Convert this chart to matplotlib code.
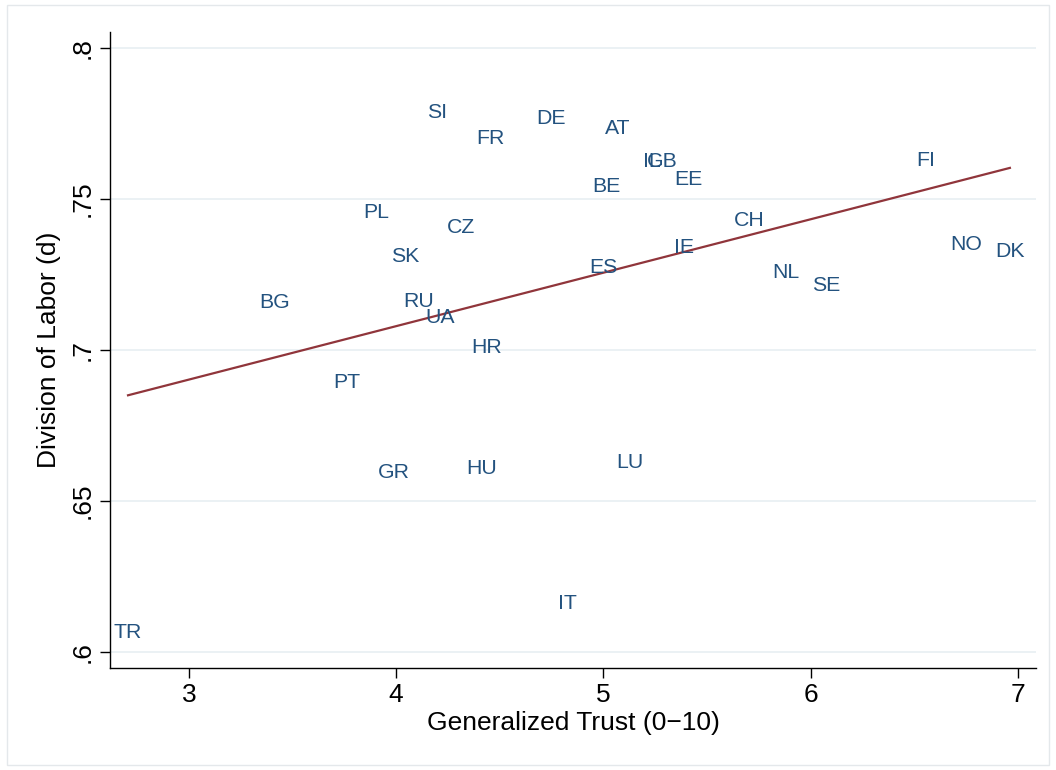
import matplotlib
matplotlib.use("Agg")
import matplotlib.pyplot as plt
import numpy as np
from matplotlib.patches import Rectangle

plt.rcParams['font.family'] = ['Liberation Sans', 'DejaVu Sans']

countries = ["TR", "SI", "FR", "DE", "AT", "IL", "GB", "EE", "BE", "FI", "CH", "PL", "CZ",
             "IE", "NO", "DK", "SK", "ES", "NL", "SE", "BG", "RU", "UA", "HR", "PT", "GR",
             "HU", "LU", "IT"]
trust = [2.706, 4.197, 4.453, 4.747, 5.070, 5.235, 5.283, 5.408, 5.013, 6.557, 5.703, 3.902, 4.313,
         5.389, 6.750, 6.962, 4.042, 5.000, 5.881, 6.074, 3.415, 4.110, 4.211, 4.438, 3.763, 3.989,
         4.414, 5.128, 4.829]
division = [0.6066, 0.7788, 0.7702, 0.7768, 0.7735, 0.7623, 0.7623, 0.7566, 0.7543, 0.7626, 0.7430, 0.7454, 0.7404,
            0.7341, 0.7348, 0.7325, 0.7308, 0.7272, 0.7258, 0.7212, 0.7156, 0.7162, 0.7106, 0.7007, 0.6891, 0.6596,
            0.6609, 0.6629, 0.6162]

xticks = [3, 4, 5, 6, 7]
yticks = [0.6, 0.65, 0.7, 0.75, 0.8]
ytick_labels = [".6", ".65", ".7", ".75", ".8"]

fig = plt.figure(figsize=(10.56, 7.70), dpi=100)
ax = fig.add_axes([110/1056, 1-668/770, (1036-110)/1056, (668-32)/770])

fig.patches.append(Rectangle((7/1056, 5/770), 1042/1056, 760/770, transform=fig.transFigure,
                             fill=False, edgecolor='#e4e8eb', linewidth=1.0))

label_color = '#23527f'
for c, x, y in zip(countries, trust, division):
    ax.text(x, y, c, ha='center', va='center', fontsize=15.3, color=label_color)

x = np.array(trust)
y = np.array(division)
b, a = np.polyfit(x, y, 1)
xs = np.array([x.min(), x.max()])
ax.plot(xs, a + b * xs, color='#90353b', linewidth=1.6)

ax.set_xlim(2.619, 7.088)
ax.set_ylim(0.5947, 0.8053)
ax.set_xticks(xticks)
ax.set_xticklabels([str(t) for t in xticks])
ax.set_yticks(yticks)
ax.set_yticklabels(ytick_labels, rotation=90, va='center')
ax.grid(axis='y', color='#e9f0f3', linewidth=1.3)
ax.set_axisbelow(True)
for s in ['top', 'right']:
    ax.spines[s].set_visible(False)
for s in ['left', 'bottom']:
    ax.spines[s].set_linewidth(1.0)
ax.tick_params(axis='both', direction='out', length=7, width=1.0, labelsize=19, pad=4)
ax.set_xlabel("Generalized Trust (0\u221210)", fontsize=19, labelpad=3)
ax.set_ylabel("Division of Labor (d)", fontsize=19, labelpad=7)

fig.savefig("out.png", dpi=100)
